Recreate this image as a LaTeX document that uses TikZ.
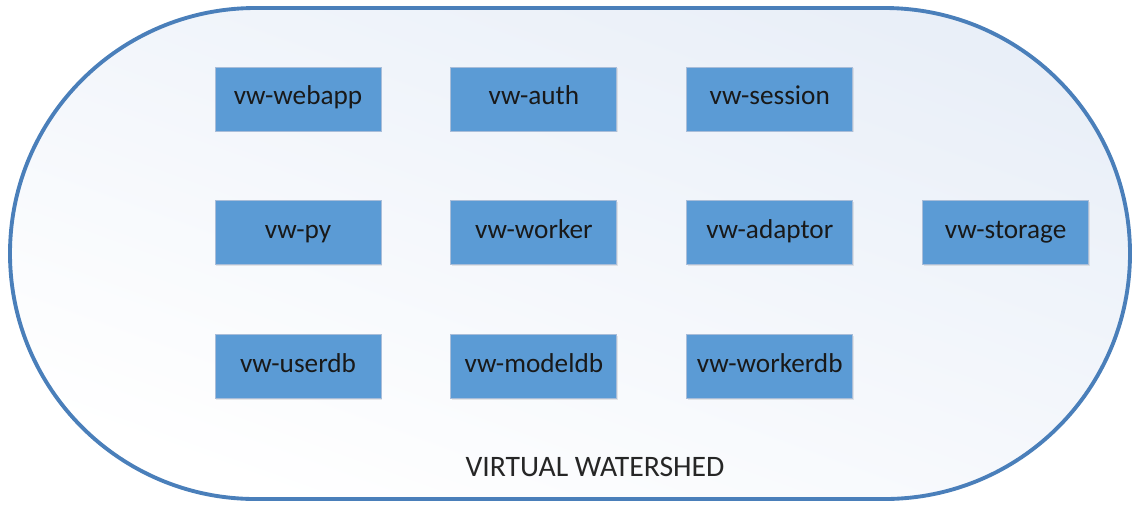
\documentclass[tikz,border=0pt]{standalone}
\usepackage{fontspec}
\setmainfont{Carlito}
\usepackage{xcolor}
\usetikzlibrary{positioning,shadows}

\definecolor{boxblue}{HTML}{5B9BD5}
\definecolor{boxedge}{HTML}{A8BDD9}
\definecolor{ringblue}{HTML}{4A7FBA}
\definecolor{paleblue}{HTML}{E9EFF8}

\begin{document}
\begin{tikzpicture}[
    service/.style={rectangle, fill=boxblue, draw=boxedge, line width=0.5pt,
      minimum width=3.32cm, minimum height=1.28cm, inner sep=0pt,
      text height=0.8em, text depth=0.13em,
      font=\fontsize{15.5}{18}\selectfont, text=black!90,
      drop shadow={opacity=0.18, shadow xshift=0.8pt, shadow yshift=-0.8pt}},
    node distance=1.38cm and 1.38cm
  ]
  \useasboundingbox (0,0) rectangle (22.72,-10.12);

  % Watershed boundary
  \draw[line width=2.2pt, draw=ringblue, rounded corners=4.91cm,
        shading=axis, top color=paleblue, bottom color=white, shading angle=-20]
    (0.2,-0.16) rectangle (22.6,-9.98);

  % First row
  \node[service] (webapp) at (5.96,-1.98) {vw-webapp};
  \node[service, right=of webapp] (auth) {vw-auth};
  \node[service, right=of auth] (session) {vw-session};

  % Second row
  \node[service, below=of webapp] (py) {vw-py};
  \node[service, right=of py] (worker) {vw-worker};
  \node[service, right=of worker] (adaptor) {vw-adaptor};
  \node[service, right=of adaptor] (storage) {vw-storage};

  % Third row
  \node[service, below=of py] (userdb) {vw-userdb};
  \node[service, right=of userdb] (modeldb) {vw-modeldb};
  \node[service, right=of modeldb] (workerdb) {vw-workerdb};

  % Label
  \node[font=\fontsize{16.9}{20}\selectfont, text=black!85] (title) at (11.9,-9.34) {VIRTUAL WATERSHED};
\end{tikzpicture}
\end{document}
